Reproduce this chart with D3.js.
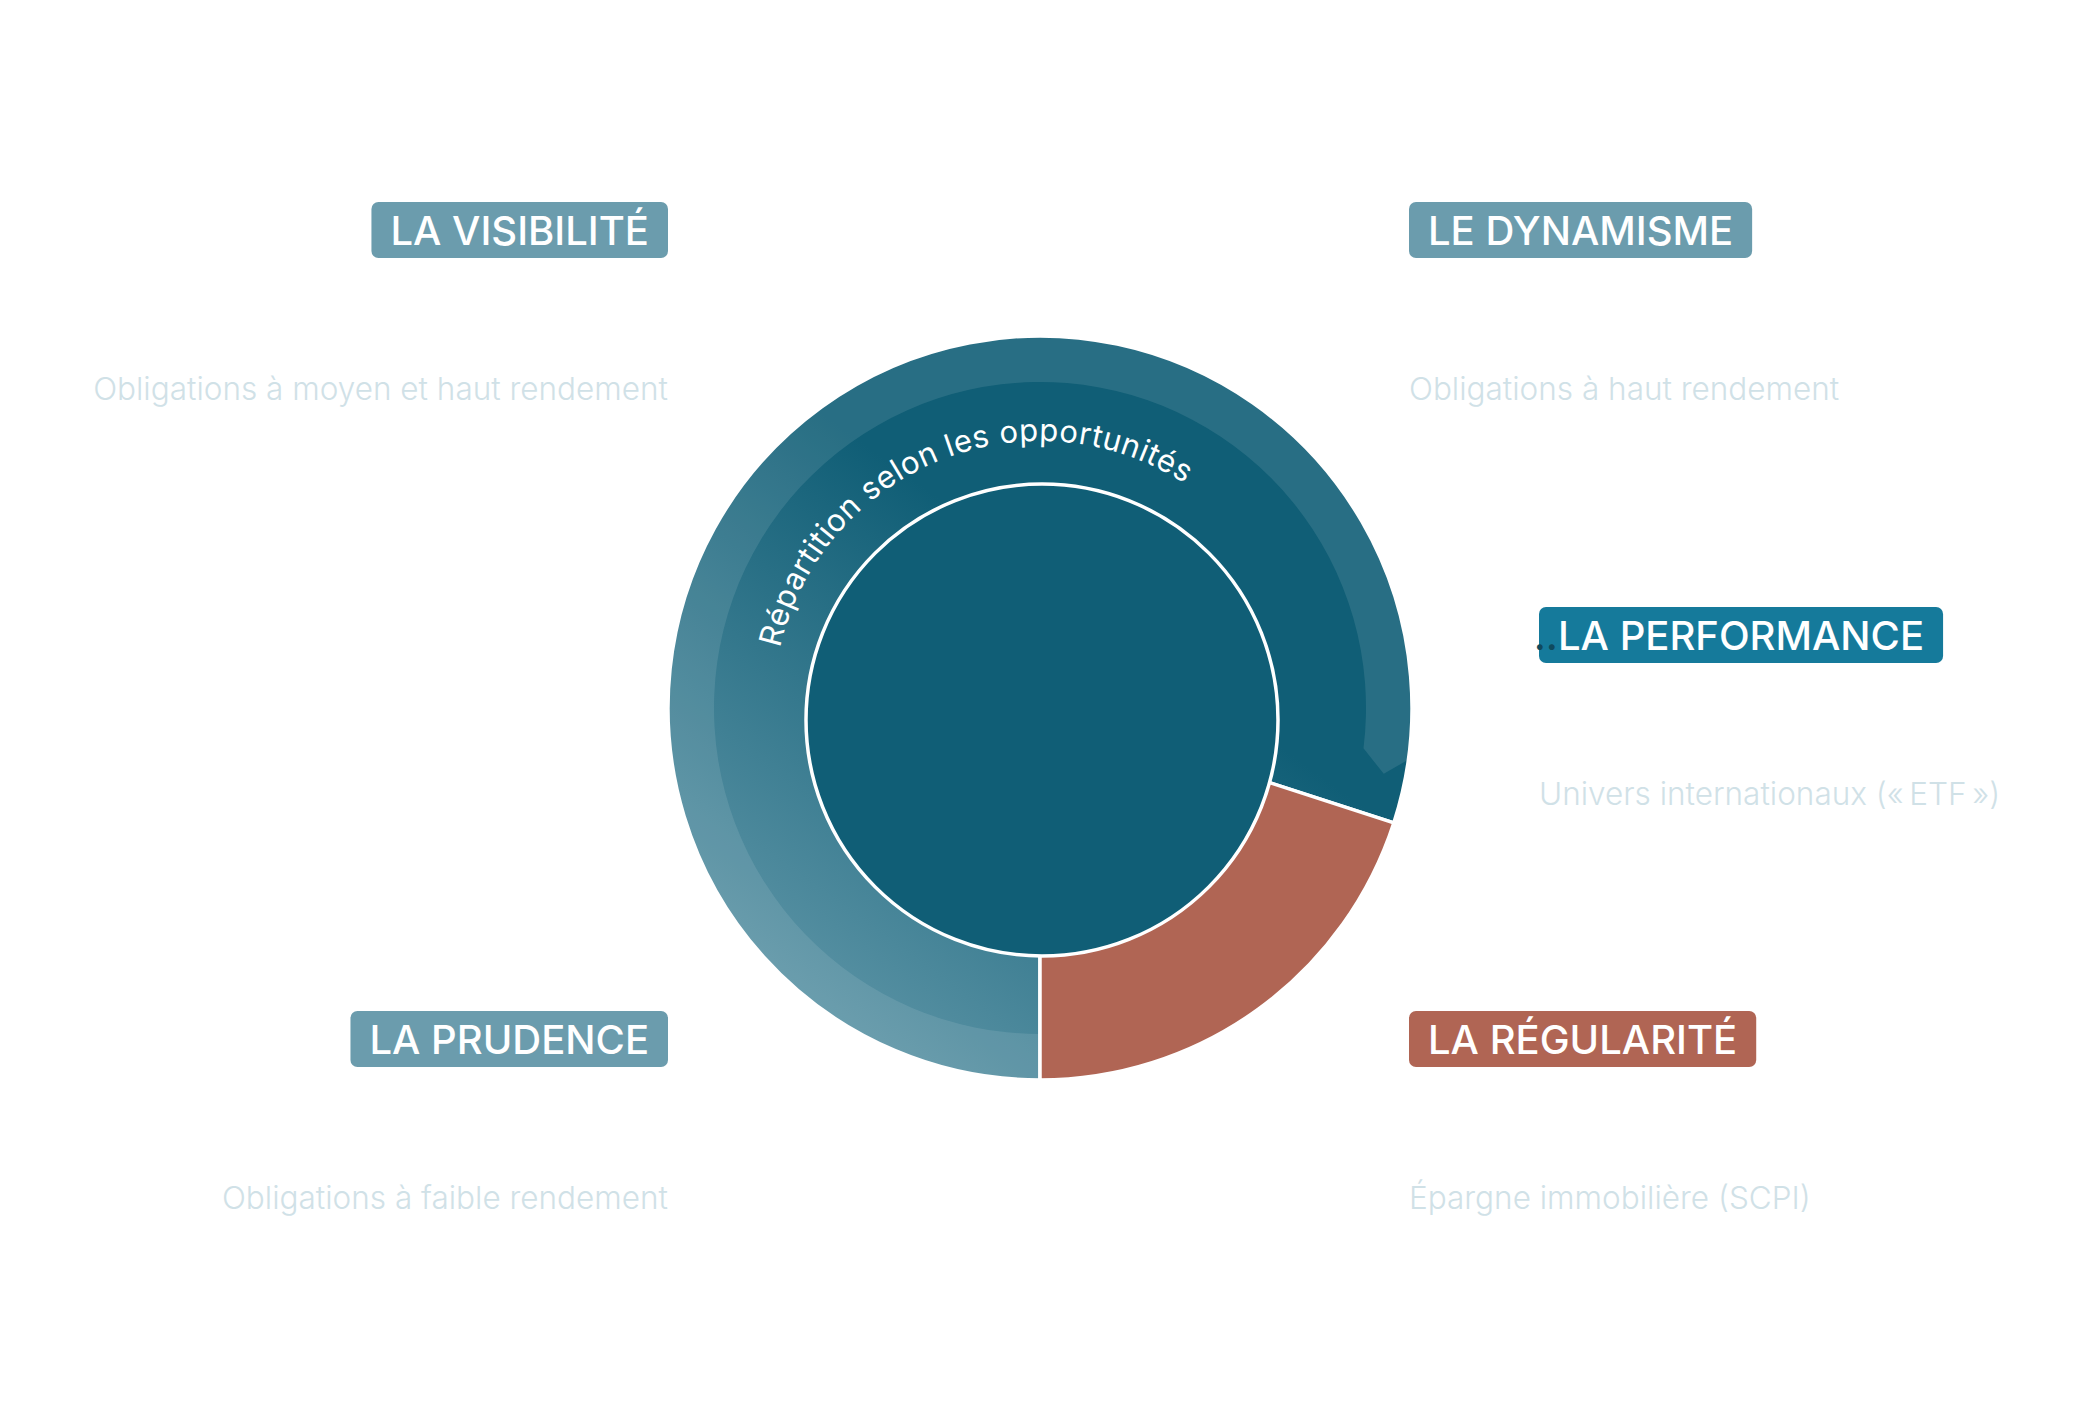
<!DOCTYPE html>
<html lang="fr">
<head>
<meta charset="utf-8">
<title>Répartition</title>
<script src="https://cdn.jsdelivr.net/npm/d3@7"></script>
<style>
  html, body { margin: 0; padding: 0; background: #fff; }
  #chart { width: 2088px; height: 1424px; }
  .pill-label { font-family: Inter, "DejaVu Sans", sans-serif; font-weight: 500; fill: #fff; }
  .hidden-line { font-family: Inter, sans-serif; font-weight: 700; fill: #fff; }
  .desc { font-family: Inter, sans-serif; font-weight: 300; fill: #d0e1e7; }
  .arc-text { font-family: Inter, sans-serif; font-weight: 400; fill: #fff; }
</style>
</head>
<body>
<div id="chart"></div>
<script>

// outer ring (share of the allocation, %)
const ringLabels = ['Répartition selon les opportunités', 'La régularité'];
const ringValues = [80, 20];

// blocks around the ring
const categories = ['LA VISIBILITÉ', 'LE DYNAMISME', 'LA PERFORMANCE', 'LA PRUDENCE', 'LA RÉGULARITÉ'];
const allocations = ['Jusqu’à 30 %', '0 % à 10 %', '10 % à 25 %', '0 % à 20 %', '20 %'];
const supports = ['CORUM XL', 'CORUM BUTLER', 'Actions', 'Obligations d’États', 'CORUM Origin'];
const descriptions = [
    'Obligations à moyen et haut rendement',
    'Obligations à haut rendement',
    'Univers internationaux (\u00AB\u202FETF\u202F\u00BB)',
    'Obligations à faible rendement',
    'Épargne immobilière (SCPI)'
];

const width = 2088, height = 1424;
const cx = 1040, cy = 708;
const outerR = 372;

function createSVG(containerId) {
    try {
        return d3.select(containerId)
            .append('svg')
            .attr('width', width)
            .attr('height', height)
            .attr('viewBox', '0 0 ' + width + ' ' + height);
    } catch (error) {
        console.log('createSVG error: ' + error);
        return null;
    }
}

const svg = createSVG('#chart');
const defs = svg.append('defs');

const grad = defs.append('linearGradient')
    .attr('id', 'tealGrad')
    .attr('gradientUnits', 'userSpaceOnUse')
    .attr('x1', 720).attr('y1', 1060)
    .attr('x2', 1040).attr('y2', 620);
grad.append('stop').attr('offset', '0%').attr('stop-color', '#6399aa');
grad.append('stop').attr('offset', '100%').attr('stop-color', '#105e76');

const ring = svg.append('g').attr('transform', 'translate(' + cx + ',' + cy + ')');

const pie = d3.pie().sort(null).startAngle(Math.PI).endAngle(3 * Math.PI);
const arc = d3.arc().innerRadius(0).outerRadius(outerR);
const sliceFill = ['url(#tealGrad)', '#b06554'];

ring.selectAll('path.slice')
    .data(pie(ringValues)).enter()
    .append('path')
    .attr('class', 'slice')
    .attr('d', arc)
    .attr('fill', (d, i) => sliceFill[i])
    .attr('stroke', '#fff')
    .attr('stroke-width', 3.5);

// curved arrow band over the teal slice
const slices = pie(ringValues);
const bandInner = 326;
const bandStart = slices[0].startAngle;
const bandEnd = slices[0].endAngle - 0.19;
const tipAngle = bandEnd + 0.065;
const toStd = a => a - Math.PI / 2;
const p = d3.path();
p.moveTo(bandInner * Math.cos(toStd(bandStart)), bandInner * Math.sin(toStd(bandStart)));
p.lineTo(outerR * Math.cos(toStd(bandStart)), outerR * Math.sin(toStd(bandStart)));
p.arc(0, 0, outerR, toStd(bandStart), toStd(bandEnd + 0.015), false);
p.lineTo(350 * Math.cos(toStd(tipAngle)), 350 * Math.sin(toStd(tipAngle)));
p.lineTo(bandInner * Math.cos(toStd(bandEnd)), bandInner * Math.sin(toStd(bandEnd)));
p.arc(0, 0, bandInner, toStd(bandEnd), toStd(bandStart), true);
p.closePath();
ring.append('path')
    .attr('d', p.toString())
    .attr('fill', '#fff')
    .attr('fill-opacity', 0.1);

// inner disc
svg.append('circle')
    .attr('cx', cx + 2)
    .attr('cy', cy + 12)
    .attr('r', 236)
    .attr('fill', '#105e76')
    .attr('stroke', '#fff')
    .attr('stroke-width', 3.5);

// text along the arc (path in page coordinates)
const textR = 267;
const a0 = -77 * Math.PI / 180, a1 = 80 * Math.PI / 180;
const tp = d3.path();
tp.moveTo(cx + textR * Math.cos(toStd(a0)), cy + textR * Math.sin(toStd(a0)));
tp.arc(cx, cy, textR, toStd(a0), toStd(a1), false);
defs.append('path')
    .attr('id', 'textArc')
    .attr('d', tp.toString());
svg.append('text')
    .attr('class', 'arc-text')
    .attr('font-size', 31)
    .attr('letter-spacing', 0.6)
    .append('textPath')
    .attr('href', '#textArc')
    .text(ringLabels[0]);

// label blocks
const layout = [
    { x: 668, y: 230, anchor: 'end', color: '#6b9cad' },
    { x: 1409, y: 230, anchor: 'start', color: '#6b9cad' },
    { x: 1539, y: 635, anchor: 'start', color: '#157a9b' },
    { x: 668, y: 1039, anchor: 'end', color: '#6b9cad' },
    { x: 1409, y: 1039, anchor: 'start', color: '#b06554' }
];
const pad = 19, pillH = 56;

categories.forEach((cat, i) => {
    const L = layout[i];
    const g = svg.append('g');
    const rect = g.append('rect')
        .attr('y', L.y - pillH / 2)
        .attr('height', pillH)
        .attr('rx', 7)
        .attr('fill', L.color);
    const label = g.append('text')
        .attr('class', 'pill-label')
        .attr('font-size', 40)
        .attr('y', L.y + 14.5)
        .text(cat);
    const tw = label.node().getComputedTextLength();
    const left = L.anchor === 'end' ? L.x - tw - 2 * pad : L.x;
    rect.attr('x', left).attr('width', tw + 2 * pad);
    label.attr('x', left + pad);

    if (i === 2) {
        g.append('text')
            .attr('class', 'pill-label')
            .attr('font-size', 40)
            .attr('x', left + pad)
            .attr('y', L.y + 14.5)
            .attr('text-anchor', 'end')
            .style('fill', '#0f4a5e')
            .text('..');
    }

    g.append('text')
        .attr('class', 'hidden-line')
        .attr('font-size', 40)
        .attr('x', L.x)
        .attr('y', L.y + 72)
        .attr('text-anchor', L.anchor)
        .text(allocations[i]);
    g.append('text')
        .attr('class', 'hidden-line')
        .attr('font-size', 40)
        .attr('x', L.x)
        .attr('y', L.y + 122)
        .attr('text-anchor', L.anchor)
        .text(supports[i]);
    g.append('text')
        .attr('class', 'desc')
        .attr('font-size', 31.5)
        .attr('x', L.x)
        .attr('y', L.y + 170)
        .attr('text-anchor', L.anchor)
        .text(descriptions[i]);
});

</script>
</body>
</html>
